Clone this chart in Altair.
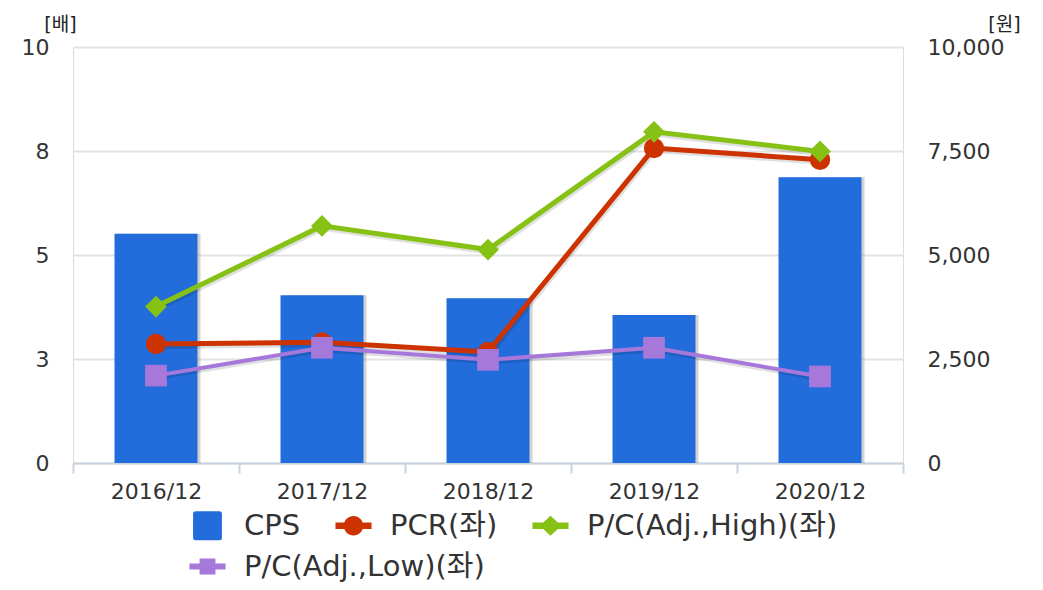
import altair as alt
import pandas as pd

# ---- data ----
years = ["2016/12", "2017/12", "2018/12", "2019/12", "2020/12"]
cps = [5510, 4030, 3960, 3560, 6870]          # right axis (원)
pcr = [2.86, 2.90, 2.67, 7.57, 7.29]          # left axis (배)
pc_high = [3.76, 5.70, 5.13, 7.96, 7.49]
pc_low = [2.10, 2.77, 2.48, 2.77, 2.08]

series_names = ["CPS", "PCR(좌)", "P/C(Adj.,High)(좌)", "P/C(Adj.,Low)(좌)"]
series_colors = ["#226CDC", "#CC3300", "#86C215", "#A678DA"]
left_ticks = [0, 2.5, 5, 7.5, 10]
right_ticks = [0, 2500, 5000, 7500, 10000]

FONT = "DejaVu Sans, Noto Sans CJK KR"
AXIS_COL = "#C8D3E0"

bar_df = pd.DataFrame({"year": years, "value": cps})
line_df = pd.DataFrame({
    "year": years * 3,
    "series": [series_names[1]] * 5 + [series_names[2]] * 5 + [series_names[3]] * 5,
    "value": pcr + pc_high + pc_low,
})

x_enc = alt.X(
    "year:N", sort=years,
    scale=alt.Scale(paddingInner=0, paddingOuter=0),
    axis=alt.Axis(title=None, labelAngle=0, tickBand="extent", labelFontSize=22,
                  labelFont=FONT, labelColor="#333", labelPadding=8, tickSize=10,
                  tickColor=AXIS_COL, tickWidth=2, domainColor=AXIS_COL, domainWidth=2,
                  grid=False),
)

y_left = alt.Y(
    "value:Q",
    scale=alt.Scale(domain=[0, 10], nice=False, zero=True),
    axis=alt.Axis(orient="left", values=left_ticks, labelExpr="round(datum.value)",
                  title="[배]", titleAngle=0, titleX=-13, titleY=-17, titleAlign="center",
                  titleBaseline="alphabetic", titleFontSize=19, titleFont=FONT,
                  titleFontWeight="normal", titleColor="#222",
                  labelPadding=24, ticks=False, domain=False, grid=True,
                  gridColor="#E2E2E2", gridWidth=2, labelFontSize=22, labelFont=FONT,
                  labelColor="#333"),
)

y_right = alt.Y(
    "value:Q",
    scale=alt.Scale(domain=[0, 10000], nice=False, zero=True),
    axis=alt.Axis(orient="right", values=right_ticks,
                  labelExpr="format(datum.value, ',')",
                  title="[원]", titleAngle=0, titleX=101, titleY=-17, titleAlign="center",
                  titleBaseline="alphabetic", titleFontSize=19, titleFont=FONT,
                  titleFontWeight="normal", titleColor="#222",
                  labelPadding=24, ticks=False, domain=False, grid=False,
                  labelFontSize=22, labelFont=FONT, labelColor="#333"),
)

# ---- bars (CPS, right axis) ----
bar_shadow = alt.Chart(bar_df).mark_bar(
    width=alt.RelativeBandSize(0.5), color="#808080", opacity=0.35, xOffset=3
).encode(x=x_enc, y=y_right)
bars = alt.Chart(bar_df).mark_bar(
    width=alt.RelativeBandSize(0.5), color=series_colors[0], opacity=1
).encode(x=x_enc, y=y_right)
bar_group = alt.layer(bar_shadow, bars)

# ---- lines with markers (left axis) ----
shapes = ["circle", "diamond", "square"]
sizes = [415, 480, 470]
widths = [5, 5, 4]
layers = []
for name, w in zip(series_names[1:], widths):
    layers.append(
        alt.Chart(line_df).transform_filter(alt.datum.series == name)
        .mark_line(color="#000", opacity=0.12, strokeWidth=w + 1, xOffset=1, yOffset=2)
        .encode(x=x_enc, y=y_left)
    )
for name, col, shp, sz, w in zip(series_names[1:], series_colors[1:], shapes, sizes, widths):
    base = alt.Chart(line_df).transform_filter(alt.datum.series == name)
    layers.append(
        base.mark_line(strokeWidth=w, opacity=1, color=col).encode(x=x_enc, y=y_left)
    )
    layers.append(
        base.mark_point(shape=shp, filled=True, size=sz, opacity=1, strokeWidth=0,
                        color=col).encode(x=x_enc, y=y_left)
    )

# ---- legend helpers (no marks drawn; legends built from the scale domains) ----
legend_paths = [
    "M-0.8,-0.66Q-0.8,-0.8 -0.66,-0.8L0.66,-0.8Q0.8,-0.8 0.8,-0.66L0.8,0.66Q0.8,0.8 0.66,0.8L-0.66,0.8Q-0.8,0.8 -0.8,0.66Z",
    "M-1,-0.18L-0.4,-0.18L-0.4,0.18L-1,0.18Z M0.4,-0.18L1,-0.18L1,0.18L0.4,0.18Z M-0.54,0A0.54,0.54 0 1,1 0.54,0A0.54,0.54 0 1,1 -0.54,0Z",
    "M-1,-0.18L-0.4,-0.18L-0.4,0.18L-1,0.18Z M0.4,-0.18L1,-0.18L1,0.18L0.4,0.18Z M0,-0.56L0.6,0L0,0.56L-0.6,0Z",
    "M-1,-0.17L-0.4,-0.17L-0.4,0.17L-1,0.17Z M0.4,-0.17L1,-0.17L1,0.17L0.4,0.17Z M-0.44,-0.44L0.44,-0.44L0.44,0.44L-0.44,0.44Z",
]

def make_legend(ly):
    return alt.Legend(
        title=None, orient="none", legendX=116, legendY=ly, direction="horizontal",
        symbolSize=1300, symbolStrokeWidth=0,
        labelFontSize=29, labelFont=FONT, labelColor="#333", labelOffset=18,
        columnPadding=34, padding=0, labelLimit=600,
    )

# row 1: CPS, PCR, High
legend_row1 = alt.Chart(line_df).transform_filter("false").mark_point(
    filled=True, opacity=1
).encode(
    x=x_enc, y=y_left,
    color=alt.Color("series:N",
                    scale=alt.Scale(domain=series_names[:3], range=series_colors[:3]),
                    legend=make_legend(460)),
    shape=alt.Shape("series:N",
                    scale=alt.Scale(domain=series_names[:3], range=legend_paths[:3]),
                    legend=make_legend(460)),
)
# row 2: Low
legend_row2 = alt.Chart(line_df).transform_filter("false").mark_point(
    filled=True, opacity=1, shape=legend_paths[3]
).encode(
    x=x_enc, y=y_left,
    fill=alt.Fill("series:N",
                  scale=alt.Scale(domain=series_names[3:], range=series_colors[3:]),
                  legend=make_legend(501)),
)
layers += [legend_row1, legend_row2]

line_group = alt.layer(*layers)

chart = alt.layer(bar_group, line_group).resolve_scale(y="independent").properties(
    width=830, height=416,
    padding={"left": 65, "top": 39, "right": 120, "bottom": 119},
    autosize=alt.AutoSizeParams(type="none"),
).configure_view(stroke=None).configure(font=FONT, background="white")

chart.save("out.html", embed_options={"renderer": "svg", "actions": False})
